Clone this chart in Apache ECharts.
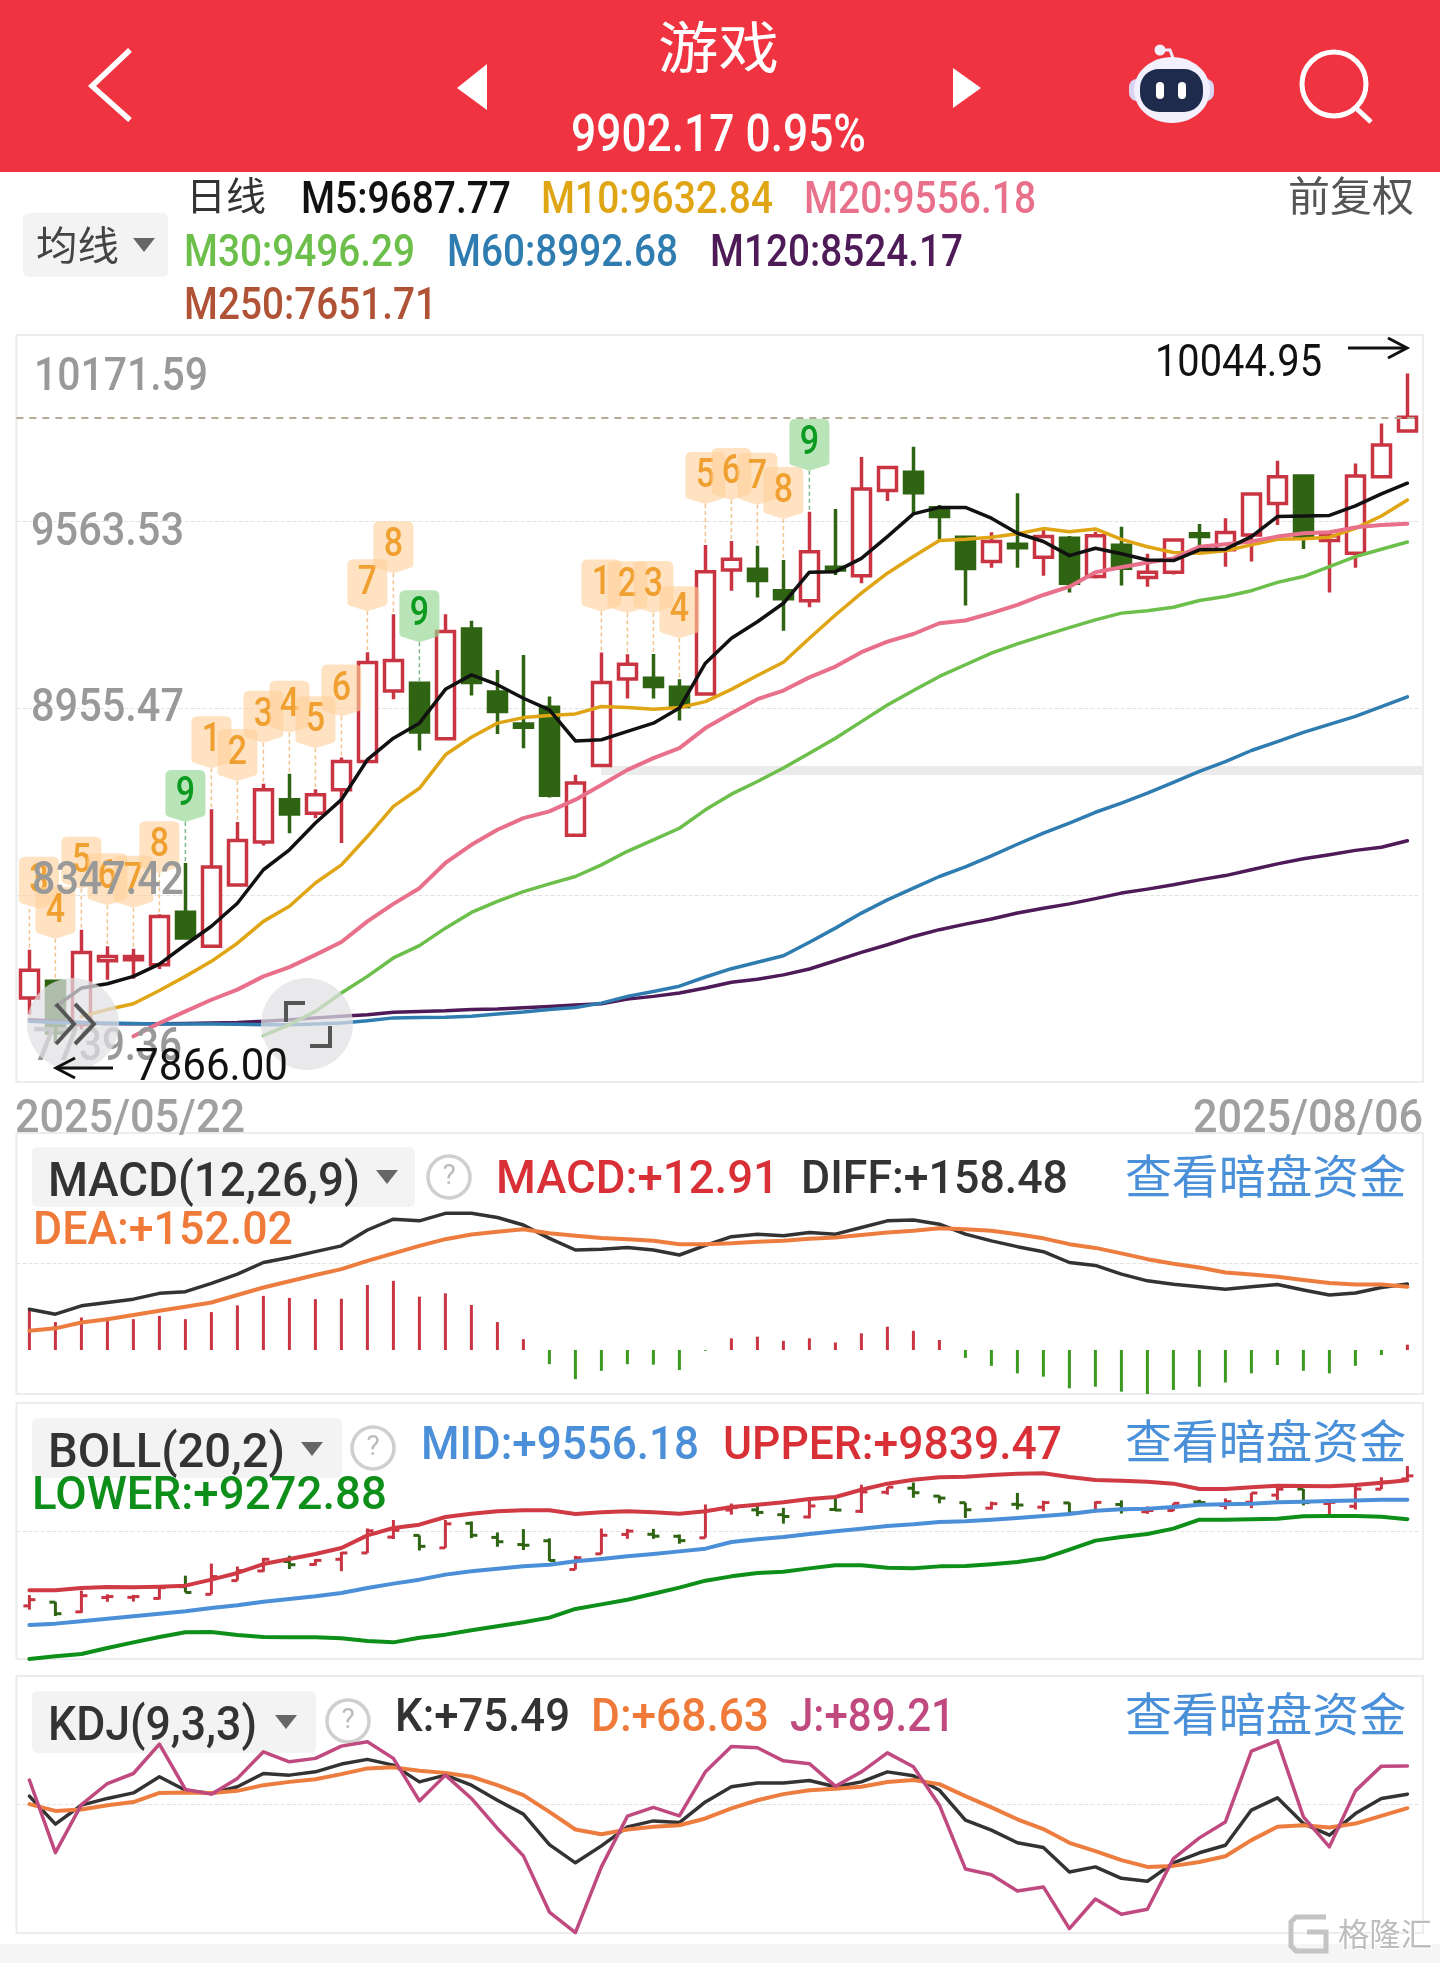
<!DOCTYPE html>
<html>

<head>
  <meta charset="UTF-8">
  <title>游戏</title>
  <script src="https://cdn.jsdelivr.net/npm/echarts@6/dist/echarts.min.js"></script>
  <style>
    html, body { margin: 0; padding: 0; background: #fff; }
    #chart { width: 1440px; height: 1963px; }
  </style>
</head>

<body>
  <div id="chart"></div>
  <script>
    // trading days
    const dates = [
      '05/22', '05/23', '05/26', '05/27', '05/28', '05/29', '05/30',
      '06/03', '06/04', '06/05', '06/06', '06/09', '06/10', '06/11', '06/12', '06/13',
      '06/16', '06/17', '06/18', '06/19', '06/20', '06/23', '06/24', '06/25', '06/26', '06/27', '06/30',
      '07/01', '07/02', '07/03', '07/04', '07/07', '07/08', '07/09', '07/10', '07/11',
      '07/14', '07/15', '07/16', '07/17', '07/18', '07/21', '07/22', '07/23', '07/24', '07/25',
      '07/28', '07/29', '07/30', '07/31', '08/01', '08/04', '08/05', '08/06'
    ];

    // open, close, low, high
    const candles = [
      [8013, 8103, 7958, 8170], [8067, 7899, 7866, 8072], [7926, 8161, 7910, 8235], [8134, 8148, 8072, 8181],
      [8137, 8148, 8075, 8173], [8121, 8278, 8107, 8285], [8292, 8208, 8208, 8452], [8181, 8439, 8181, 8627],
      [8380, 8525, 8380, 8585], [8520, 8690, 8509, 8710], [8658, 8611, 8549, 8742], [8614, 8674, 8598, 8692],
      [8690, 8782, 8517, 8795], [8782, 9104, 8782, 9138], [9012, 9111, 8985, 9261], [9037, 8878, 8818, 9037],
      [8856, 9205, 8856, 9261], [9213, 9039, 8997, 9240], [9008, 8945, 8872, 9080], [8904, 8894, 8825, 9129],
      [8959, 8672, 8665, 8994], [8542, 8712, 8542, 8739], [8769, 9039, 8769, 9137], [9051, 9099, 8987, 9131],
      [9053, 9026, 8987, 9132], [9024, 8961, 8916, 9050], [9002, 9400, 9002, 9487], [9405, 9440, 9338, 9500],
      [9408, 9371, 9316, 9484], [9338, 9312, 9208, 9438], [9305, 9465, 9284, 9595], [9414, 9405, 9389, 9604],
      [9387, 9669, 9362, 9773], [9664, 9739, 9630, 9739], [9723, 9657, 9584, 9806], [9608, 9579, 9503, 9617],
      [9512, 9410, 9290, 9512], [9433, 9498, 9413, 9528], [9489, 9478, 9413, 9655], [9447, 9514, 9387, 9541],
      [9509, 9362, 9332, 9516], [9384, 9517, 9378, 9530], [9486, 9411, 9355, 9546], [9381, 9398, 9351, 9458],
      [9398, 9503, 9391, 9503], [9523, 9514, 9476, 9555], [9471, 9527, 9416, 9574], [9519, 9653, 9433, 9653],
      [9622, 9709, 9552, 9761], [9711, 9514, 9474, 9711], [9501, 9517, 9332, 9517], [9460, 9711, 9413, 9752],
      [9709, 9812, 9709, 9882], [9858, 9902.17, 9858, 10044.95]
    ];

    const m5 = [null, 7985, 8045, 8059, 8083, 8123, 8186, 8246, 8321, 8430, 8495, 8582, 8658, 8788, 8858, 8907, 9017, 9064, 9032, 8988, 8950, 8849, 8853, 8880, 8907, 8956, 9102, 9183, 9237, 9297, 9398, 9400, 9443, 9514, 9588, 9609, 9609, 9574, 9525, 9498, 9452, 9476, 9458, 9438, 9436, 9471, 9473, 9514, 9579, 9581, 9583, 9614, 9653, 9687.77];
    const m10 = [null, null, 7953, 7975, 7994, 8037, 8083, 8132, 8191, 8262, 8311, 8387, 8446, 8538, 8636, 8695, 8804, 8861, 8907, 8925, 8932, 8937, 8961, 8958, 8952, 8958, 8977, 9017, 9062, 9105, 9183, 9259, 9330, 9395, 9449, 9501, 9505, 9512, 9523, 9540, 9530, 9539, 9505, 9481, 9462, 9460, 9468, 9487, 9505, 9507, 9512, 9541, 9581, 9632.84];
    const m20 = [null, null, null, null, 7888, 7931, 7969, 8007, 8040, 8083, 8113, 8153, 8195, 8262, 8319, 8370, 8452, 8511, 8560, 8598, 8620, 8658, 8706, 8755, 8793, 8826, 8891, 8939, 8985, 9013, 9056, 9091, 9138, 9172, 9197, 9232, 9241, 9265, 9292, 9324, 9351, 9398, 9414, 9430, 9443, 9481, 9489, 9498, 9514, 9525, 9528, 9544, 9552, 9556.18];
    const m30 = [null, null, null, null, null, null, null, null, null, 7890, 7926, 7969, 8029, 8083, 8143, 8183, 8240, 8291, 8327, 8359, 8384, 8408, 8446, 8490, 8527, 8565, 8625, 8676, 8717, 8761, 8809, 8858, 8912, 8966, 9013, 9059, 9097, 9135, 9165, 9192, 9218, 9243, 9265, 9273, 9284, 9306, 9319, 9338, 9365, 9384, 9416, 9449, 9473, 9496.29];
    const m60 = [7937, 7933, 7931, 7931, 7930, 7928, 7928, 7928, 7927, 7926, 7926, 7928, 7931, 7939, 7948, 7949, 7950, 7953, 7961, 7967, 7975, 7982, 7996, 8018, 8034, 8051, 8081, 8108, 8129, 8150, 8194, 8240, 8289, 8332, 8370, 8408, 8439, 8475, 8513, 8549, 8582, 8617, 8647, 8679, 8714, 8750, 8782, 8818, 8847, 8877, 8903, 8929, 8961, 8992.68];
    const m120 = [7942, 7937, 7933, 7929, 7929, 7929, 7930, 7931, 7933, 7937, 7942, 7948, 7953, 7958, 7966, 7969, 7971, 7975, 7977, 7981, 7985, 7990, 7994, 8009, 8018, 8029, 8045, 8064, 8074, 8088, 8107, 8134, 8161, 8186, 8213, 8235, 8253, 8270, 8289, 8305, 8319, 8336, 8354, 8367, 8381, 8397, 8411, 8430, 8449, 8466, 8479, 8493, 8503, 8524.17];

    const macdBars = [96, 67, 78, 78, 74, 82, 74, 91, 107, 130, 125, 122, 123, 156, 166, 128, 136, 108, 67, 26, -34, -70, -50, -34, -35, -48, -2, 28, 32, 22, 28, 18, 40, 56, 46, 24, -19, -38, -56, -64, -92, -88, -100, -106, -96, -88, -78, -56, -36, -50, -56, -38, -12, 12.91];
    const diff = [98, 86, 106, 114, 122, 136, 140, 160, 182, 210, 222, 236, 250, 288, 314, 310, 328, 328, 318, 300, 268, 240, 242, 246, 240, 228, 251, 272, 278, 274, 282, 278, 294, 310, 312, 302, 278, 262, 248, 236, 210, 203, 182, 166, 158, 152, 146, 152, 157, 144, 132, 137, 150, 158.48];
    const dea = [46, 52, 66, 74, 84, 94, 104, 114, 132, 150, 165, 180, 194, 214, 232, 250, 266, 277, 284, 290, 280, 274, 269, 266, 262, 254, 254, 256, 260, 262, 267, 270, 276, 282, 286, 292, 290, 286, 278, 268, 254, 245, 232, 218, 207, 198, 186, 181, 176, 168, 161, 157, 157, 152.02];

    const bollUpper = [8239, 8239, 8273, 8287, 8283, 8292, 8307, 8394, 8491, 8621, 8694, 8767, 8854, 9038, 9144, 9193, 9304, 9353, 9387, 9401, 9401, 9348, 9372, 9387, 9372, 9353, 9387, 9450, 9484, 9518, 9566, 9595, 9701, 9789, 9847, 9881, 9890, 9914, 9934, 9939, 9886, 9842, 9832, 9818, 9789, 9711, 9711, 9735, 9760, 9755, 9750, 9769, 9803, 9839.47];
    const bollMid = [7735, 7755, 7788, 7827, 7861, 7900, 7934, 7982, 8021, 8074, 8113, 8152, 8200, 8273, 8336, 8394, 8467, 8515, 8554, 8588, 8612, 8660, 8694, 8733, 8767, 8805, 8844, 8941, 8980, 9014, 9057, 9096, 9135, 9174, 9198, 9232, 9241, 9266, 9290, 9319, 9348, 9396, 9416, 9425, 9450, 9484, 9488, 9498, 9517, 9527, 9537, 9546, 9556, 9556.18];
    const bollLower = [7241, 7280, 7314, 7401, 7483, 7561, 7629, 7633, 7590, 7561, 7556, 7556, 7541, 7503, 7483, 7551, 7595, 7658, 7716, 7774, 7842, 7968, 8035, 8103, 8190, 8278, 8379, 8442, 8491, 8510, 8558, 8602, 8602, 8568, 8558, 8587, 8592, 8617, 8650, 8704, 8830, 8961, 9014, 9057, 9135, 9266, 9266, 9270, 9280, 9314, 9319, 9319, 9309, 9272.88];

    const kdjK = [74.5, 60.8, 70.1, 73.4, 76.1, 84.0, 77.4, 75.8, 79.1, 85.6, 84.8, 86.4, 90.2, 92.5, 89.7, 81.5, 84.8, 79.9, 72.5, 65.7, 50.8, 41.9, 50.2, 59.5, 62.4, 61.6, 71.7, 79.1, 81.0, 81.0, 82.2, 79.1, 81.5, 86.4, 84.5, 77.4, 62.8, 57.9, 51.7, 49.4, 37.4, 39.9, 34.3, 32.9, 41.9, 46.8, 50.5, 67.7, 73.7, 61.1, 55.4, 66.0, 73.4, 75.49];
    const kdjD = [70.6, 67.3, 68.0, 70.1, 71.6, 76.1, 76.3, 76.1, 77.1, 79.9, 81.5, 82.8, 85.3, 88.1, 88.6, 86.9, 85.9, 84.0, 79.9, 75.0, 66.8, 58.2, 55.9, 58.2, 59.5, 60.3, 63.6, 68.5, 72.5, 75.5, 77.4, 78.1, 79.1, 81.4, 82.4, 80.4, 74.5, 69.0, 63.2, 58.4, 51.7, 47.6, 43.2, 39.9, 40.4, 42.3, 45.1, 53.0, 59.5, 60.3, 59.2, 61.1, 64.9, 68.63];
    const kdjJ = [82.4, 46.9, 70.4, 80.7, 85.6, 100.0, 77.8, 75.5, 83.2, 96.2, 91.3, 93.0, 99.0, 101.1, 93.0, 72.2, 84.8, 73.4, 58.7, 45.3, 17.8, 7.7, 39.9, 64.7, 69.0, 64.9, 86.4, 98.8, 98.2, 91.8, 90.4, 79.4, 86.4, 95.7, 88.9, 70.1, 38.9, 36.1, 28.1, 30.1, 9.7, 24.2, 16.7, 19.2, 44.0, 54.1, 61.9, 96.6, 101.6, 64.4, 49.7, 77.1, 89.2, 89.21];

    // 九转序列: candle index and its count
    const tdIndex = [0, 1, 2, 3, 4, 5, 6, 7, 8, 9, 10, 11, 12, 13, 14, 15, 22, 23, 24, 25, 26, 27, 28, 29, 30];
    const tdCount = [3, 4, 5, 6, 7, 8, 9, 1, 2, 3, 4, 5, 6, 7, 8, 9, 1, 2, 3, 4, 5, 6, 7, 8, 9];

    // left side price ticks, top to bottom
    const priceTicks = [10171.59, 9563.53, 8955.47, 8347.42, 7739.36];
    const lastPrice = 9902.17;

    const RED = '#c93442';
    const DARK_GREEN = '#2f6412';
    const LATIN = 'Roboto, "Noto Sans CJK SC", sans-serif';
    const CJK = '"Noto Sans CJK SC", sans-serif';

    const measure = document.createElement('canvas').getContext('2d');

    // text stretched to span x0..x1, the reference font is taller and narrower than Roboto
    function fit(text, x0, x1, cy, size, fill, family, extra) {
      const isCjk = family === CJK;
      const weight = (extra && extra.weight) || 500;
      const font = isCjk ? size + 'px ' + family : weight + ' ' + Math.round(size * 1.07) + 'px ' + LATIN;
      measure.font = font;
      const w = measure.measureText(text).width;
      const style = Object.assign({ text: text, font: font, fill: fill, textAlign: 'left', textVerticalAlign: 'middle' }, extra || {});
      delete style.weight;
      return { type: 'text', x: x0, y: isCjk ? cy : cy + 2.5, scaleX: (x1 - x0) / w, style: style };
    }

    function panelBox(top, bottom) {
      return { type: 'rect', z: 1, shape: { x: 16.5, y: top, width: 1406.5, height: bottom - top }, style: { fill: 'none', stroke: '#ececec', lineWidth: 2 } };
    }

    // button background stays under the indicator lines
    function dropdown(x0, x1, y0, y1, triX, triY) {
      return [
        { type: 'rect', z: 1, shape: { x: x0, y: y0, width: x1 - x0, height: y1 - y0, r: 6 }, style: { fill: '#f3f3f3' } },
        { type: 'polygon', z: 1, shape: { points: [[triX, triY], [triX + 22, triY], [triX + 11, triY + 14]] }, style: { fill: '#666' } }
      ];
    }

    function helpIcon(cx, cy) {
      return [
        { type: 'circle', z: 1, shape: { cx: cx, cy: cy, r: 21 }, style: { fill: '#fff', stroke: '#cfcfcf', lineWidth: 3.5 } },
        { type: 'text', z: 1, x: cx, y: cy, style: { text: '?', font: '28px ' + LATIN, fill: '#bbb', textAlign: 'center', textVerticalAlign: 'middle' } }
      ];
    }

    const BLUE_LINK = '#4a90d9';
    const graphics = [].concat(
      // header
      [
        { type: 'rect', shape: { x: 0, y: 0, width: 1440, height: 172 }, style: { fill: '#ef3340' } },
        { type: 'polyline', shape: { points: [[130, 50], [92, 86], [130, 120]] }, style: { fill: 'none', stroke: '#fff', lineWidth: 5.5 } },
        { type: 'polygon', shape: { points: [[487, 64], [487, 110], [457, 88]] }, style: { fill: '#fff' } },
        { type: 'polygon', shape: { points: [[953, 68], [953, 108], [981, 88]] }, style: { fill: '#fff' } },
        // robot icon
        { type: 'polyline', shape: { points: [[1160, 50], [1170, 50], [1173, 58]] }, style: { fill: 'none', stroke: '#ece9fa', lineWidth: 3 } },
        { type: 'circle', shape: { cx: 1160, cy: 50, r: 5.5 }, style: { fill: '#f2effc' } },
        { type: 'rect', shape: { x: 1129, y: 79, width: 85, height: 22, r: 8 }, style: { fill: '#d9d4f2' } },
        { type: 'ellipse', shape: { cx: 1172, cy: 90, rx: 38, ry: 33 }, style: { fill: '#f2f0fc' } },
        { type: 'rect', shape: { x: 1140, y: 69, width: 63, height: 43, r: 19 }, style: { fill: '#1f2b4d' } },
        { type: 'rect', shape: { x: 1156, y: 82, width: 8, height: 17, r: 4 }, style: { fill: '#fff' } },
        { type: 'rect', shape: { x: 1178, y: 82, width: 8, height: 17, r: 4 }, style: { fill: '#fff' } },
        { type: 'circle', shape: { cx: 1334, cy: 84, r: 32 }, style: { fill: 'none', stroke: '#fff', lineWidth: 5 } },
        { type: 'line', shape: { x1: 1356, y1: 108, x2: 1371, y2: 122 }, style: { stroke: '#fff', lineWidth: 5 } },
        fit('游戏', 658, 779, 47, 56, '#fff', CJK),
        fit('9902.17 0.95%', 571, 866, 136, 48, '#fff')
      ],
      // moving average legend
      dropdown(23, 168, 213, 277, 133, 238),
      [
        fit('均线', 36, 119, 245, 40, '#444', CJK),
        fit('日线', 186, 266, 195, 39, '#333', CJK),
        fit('M5:9687.77', 301, 511, 199, 42, '#111'),
        fit('M10:9632.84', 541, 773, 199, 42, '#e0a514'),
        fit('M20:9556.18', 804, 1036, 199, 42, '#e8708a'),
        fit('前复权', 1288, 1414, 195, 41, '#555', CJK),
        fit('M30:9496.29', 184, 415, 252, 42, '#6cbf4a'),
        fit('M60:8992.68', 447, 678, 252, 42, '#2e7cb0'),
        fit('M120:8524.17', 710, 963, 252, 42, '#4e1a57'),
        fit('M250:7651.71', 184, 437, 305, 42, '#b05236')
      ],
      // panel frames
      [panelBox(335, 1082), panelBox(1133, 1394), panelBox(1403, 1659), panelBox(1676, 1933)],
      // grey band across the main panel
      [{ type: 'rect', z: 1, shape: { x: 601, y: 766, width: 822, height: 9 }, style: { fill: '#ebebeb' } }],
      // MACD header
      dropdown(32, 415, 1147, 1207, 376, 1170),
      helpIcon(449, 1177),
      // BOLL header
      dropdown(32, 342, 1418, 1478, 301, 1442),
      helpIcon(373, 1448),
      // KDJ header
      dropdown(32, 316, 1691, 1753, 275, 1715),
      helpIcon(348, 1721),
      // bottom band
      [{ type: 'rect', z: 1, shape: { x: 0, y: 1944, width: 1440, height: 19 }, style: { fill: '#f5f5f5' } }],
      // price ticks sit at uneven offsets from their gridlines
      [
        fit(priceTicks[0].toFixed(2), 34, 208, 376, 44, '#999'),
        fit(priceTicks[1].toFixed(2), 31, 184, 531, 44, '#999'),
        fit(priceTicks[2].toFixed(2), 31, 184, 707, 44, '#999'),
        fit(priceTicks[3].toFixed(2), 32, 184, 880, 44, '#999'),
        fit(priceTicks[4].toFixed(2), 33, 182, 1046, 44, '#999')
      ],
      // scroll and fullscreen buttons
      [
        { type: 'circle', shape: { cx: 73, cy: 1024, r: 46 }, style: { fill: 'rgba(225,225,228,0.72)' } },
        { type: 'polyline', shape: { points: [[56, 1004], [74, 1024], [56, 1044]] }, style: { fill: 'none', stroke: '#555', lineWidth: 4 } },
        { type: 'polyline', shape: { points: [[75, 1004], [94, 1024], [75, 1044]] }, style: { fill: 'none', stroke: '#555', lineWidth: 4 } },
        { type: 'circle', shape: { cx: 307, cy: 1024, r: 46 }, style: { fill: 'rgba(225,225,228,0.72)' } },
        { type: 'polyline', shape: { points: [[305, 1003], [286, 1003], [286, 1022]] }, style: { fill: 'none', stroke: '#555', lineWidth: 4 } },
        { type: 'polyline', shape: { points: [[330, 1026], [330, 1046], [310, 1046]] }, style: { fill: 'none', stroke: '#555', lineWidth: 4 } }
      ],
      // high and low of the visible range
      [
        fit('10044.95', 1155, 1322, 362, 42, '#111', null, { weight: 400 }),
        { type: 'line', shape: { x1: 1348, y1: 348, x2: 1406, y2: 348 }, style: { stroke: '#111', lineWidth: 3 } },
        { type: 'polyline', shape: { points: [[1388, 338], [1407, 348], [1388, 358]] }, style: { fill: 'none', stroke: '#111', lineWidth: 3 } },
        fit('7866.00', 135, 288, 1066, 42, '#111', null, { weight: 400 }),
        { type: 'line', shape: { x1: 56, y1: 1068, x2: 113, y2: 1068 }, style: { stroke: '#111', lineWidth: 3 } },
        { type: 'polyline', shape: { points: [[75, 1058], [56, 1068], [75, 1078]] }, style: { fill: 'none', stroke: '#111', lineWidth: 3 } }
      ],
      // date range
      [
        fit('2025/' + dates[0], 15, 245, 1118, 44, '#a0a0a0'),
        fit('2025/' + dates[dates.length - 1], 1193, 1423, 1118, 44, '#a0a0a0')
      ],
      [
        fit('MACD(12,26,9)', 48, 360, 1181, 46, '#333'),
        fit('MACD:+12.91', 496, 779, 1179, 44, '#d93038'),
        fit('DIFF:+158.48', 801, 1068, 1179, 44, '#333'),
        fit('查看暗盘资金', 1125, 1406, 1176, 46, BLUE_LINK, CJK),
        fit('DEA:+152.02', 33, 293, 1230, 44, '#ef7a3a')
      ],
      [
        fit('BOLL(20,2)', 48, 285, 1452, 46, '#333'),
        fit('MID:+9556.18', 421, 699, 1445, 44, '#4a8fd8'),
        fit('UPPER:+9839.47', 723, 1062, 1445, 44, '#d93038'),
        fit('查看暗盘资金', 1125, 1406, 1441, 46, BLUE_LINK, CJK),
        fit('LOWER:+9272.88', 32, 387, 1495, 44, '#0d8f1a')
      ],
      [
        fit('KDJ(9,3,3)', 48, 257, 1725, 46, '#333'),
        fit('K:+75.49', 395, 570, 1717, 44, '#333'),
        fit('D:+68.63', 591, 769, 1717, 44, '#ef7a3a'),
        fit('J:+89.21', 790, 955, 1717, 44, '#c04a80'),
        fit('查看暗盘资金', 1125, 1406, 1714, 46, BLUE_LINK, CJK)
      ],
      // watermark
      [
        { type: 'polyline', shape: { points: [[1326, 1917], [1296, 1917], [1291, 1922], [1291, 1946], [1296, 1951], [1326, 1951], [1326, 1932], [1307, 1932]] }, style: { fill: 'none', stroke: '#c4c4c4', lineWidth: 5 } },
        fit('格隆汇', 1338, 1432, 1934, 32, '#bdbdbd', CJK, { stroke: '#fff', lineWidth: 2 })
      ]
    ).map(el => (el.z === undefined ? Object.assign({ z: 100 }, el) : el));

    // tag with pointer above the candle, dashed leader down to its high
    function renderTag(params, api) {
      const tip = api.coord([api.value(0), api.value(1)]);
      const count = api.value(2);
      const isNine = count === 9;
      const x = tip[0];
      // tags are kept inside the panel's left edge
      const tagX = Math.max(x, 39);
      const tagBottom = tip[1] - 41;
      return {
        type: 'group',
        children: [
          {
            type: 'line',
            shape: { x1: x, y1: tagBottom, x2: x, y2: tip[1] },
            style: { stroke: isNine ? '#7cb98a' : '#f0c48e', lineWidth: 1.5, lineDash: [4, 3] }
          },
          {
            type: 'path',
            shape: {
              pathData: 'M6 0L34 0Q40 0 40 6L40 43Q40 46 36 47L20 52L4 47Q0 46 0 43L0 6Q0 0 6 0Z',
              x: tagX - 20, y: tagBottom - 52, width: 40, height: 52, layout: 'cover'
            },
            style: { fill: isNine ? 'rgba(150,215,150,0.68)' : 'rgba(255,208,155,0.62)' }
          },
          {
            type: 'text',
            x: tagX,
            y: tagBottom - 27,
            scaleX: 0.85,
            style: {
              text: String(count),
              font: '500 40px ' + LATIN,
              fill: isNine ? '#0a9a1f' : '#efa030',
              textAlign: 'center',
              textVerticalAlign: 'middle'
            }
          }
        ]
      };
    }

    // small OHLC bar: open tick to the left, close tick to the right
    function renderOhlc(params, api) {
      const idx = api.value(0);
      const open = api.coord([idx, api.value(1)]);
      const close = api.coord([idx, api.value(2)]);
      const low = api.coord([idx, api.value(3)]);
      const high = api.coord([idx, api.value(4)]);
      const color = api.value(2) >= api.value(1) ? RED : DARK_GREEN;
      const style = { stroke: color, lineWidth: 3, fill: 'none' };
      return {
        type: 'group',
        children: [
          { type: 'line', shape: { x1: high[0], y1: high[1], x2: low[0], y2: low[1] }, style: style },
          { type: 'line', shape: { x1: open[0] - 6, y1: open[1], x2: open[0], y2: open[1] }, style: style },
          { type: 'line', shape: { x1: close[0], y1: close[1], x2: close[0] + 6, y2: close[1] }, style: style }
        ]
      };
    }

    const GRID_LEFT = 16.4;
    const GRID_WIDTH = 1404;
    const panels = [
      { top: 334.5, height: 747.5, min: priceTicks[4], max: priceTicks[0], lines: priceTicks.slice(1, 4) },
      { top: 1133, height: 261, min: -105.6, max: 520.8, lines: [207.6] },
      { top: 1403, height: 256, min: 7241, max: 10961, lines: [9096] },
      { top: 1676, height: 257, min: 7.56, max: 133.3, lines: [70.4] }
    ];

    function lineSeries(name, data, color, panel, width) {
      return {
        name: name,
        type: 'line',
        data: data,
        xAxisIndex: panel,
        yAxisIndex: panel,
        symbol: 'none',
        connectNulls: false,
        z: 5,
        lineStyle: { color: color, width: width || 3.5, cap: 'round', join: 'round' }
      };
    }

    const option = {
      animation: false,
      backgroundColor: '#fff',
      graphic: { elements: graphics },
      grid: panels.map(p => ({ left: GRID_LEFT, width: GRID_WIDTH, top: p.top, height: p.height })),
      xAxis: panels.map((p, i) => ({
        type: 'category',
        gridIndex: i,
        data: dates,
        boundaryGap: true,
        axisLine: { show: false },
        axisTick: { show: false },
        axisLabel: { show: false },
        splitLine: { show: false }
      })),
      yAxis: panels.map((p, i) => ({
        type: 'value',
        gridIndex: i,
        min: p.min,
        max: p.max,
        scale: true,
        axisLine: { show: false },
        axisLabel: { show: false },
        axisTick: { show: false, customValues: p.lines },
        splitLine: { show: true, lineStyle: { color: '#e2e2e2', width: 1, type: 'dashed' } }
      })),
      series: [
        {
          name: '日线',
          type: 'candlestick',
          data: candles,
          xAxisIndex: 0,
          yAxisIndex: 0,
          barWidth: 19,
          z: 2,
          itemStyle: {
            color: '#fff',
            color0: DARK_GREEN,
            borderColor: RED,
            borderColor0: DARK_GREEN,
            borderWidth: 3.5
          },
          markLine: {
            silent: true,
            symbol: 'none',
            label: { show: false },
            lineStyle: { color: '#b5ab95', width: 2, type: [7, 6] },
            data: [{ yAxis: lastPrice }]
          }
        },
        {
          name: 'TD',
          type: 'custom',
          xAxisIndex: 0,
          yAxisIndex: 0,
          z: 3,
          silent: true,
          renderItem: renderTag,
          data: tdIndex.map((c, i) => [c, candles[c][3], tdCount[i]])
        },
        lineSeries('M120', m120, '#4e1a57', 0),
        lineSeries('M60', m60, '#2e7cb0', 0),
        lineSeries('M30', m30, '#6cbf4a', 0),
        lineSeries('M10', m10, '#e0a514', 0),
        lineSeries('M20', m20, '#e8708a', 0, 4),
        lineSeries('M5', m5, '#111', 0),
        {
          name: 'MACD',
          type: 'bar',
          data: macdBars,
          xAxisIndex: 1,
          yAxisIndex: 1,
          barWidth: 3,
          itemStyle: { color: p => (p.value >= 0 ? RED : '#3a9a20') }
        },
        lineSeries('DIFF', diff, '#333', 1),
        lineSeries('DEA', dea, '#ed7d3f', 1, 4),
        {
          name: 'OHLC',
          type: 'custom',
          xAxisIndex: 2,
          yAxisIndex: 2,
          z: 3,
          silent: true,
          renderItem: renderOhlc,
          data: candles.map((c, i) => [i, c[0], c[1], c[2], c[3]])
        },
        lineSeries('UPPER', bollUpper, '#cf3a45', 2, 4),
        lineSeries('MID', bollMid, '#4a8fd8', 2, 4),
        lineSeries('LOWER', bollLower, '#0d8f1a', 2, 4),
        lineSeries('K', kdjK, '#333', 3),
        lineSeries('D', kdjD, '#ed7d3f', 3, 4),
        lineSeries('J', kdjJ, '#c04a80', 3)
      ]
    };

    const chart = echarts.init(document.getElementById('chart'));
    chart.setOption(option);
  </script>
</body>

</html>
